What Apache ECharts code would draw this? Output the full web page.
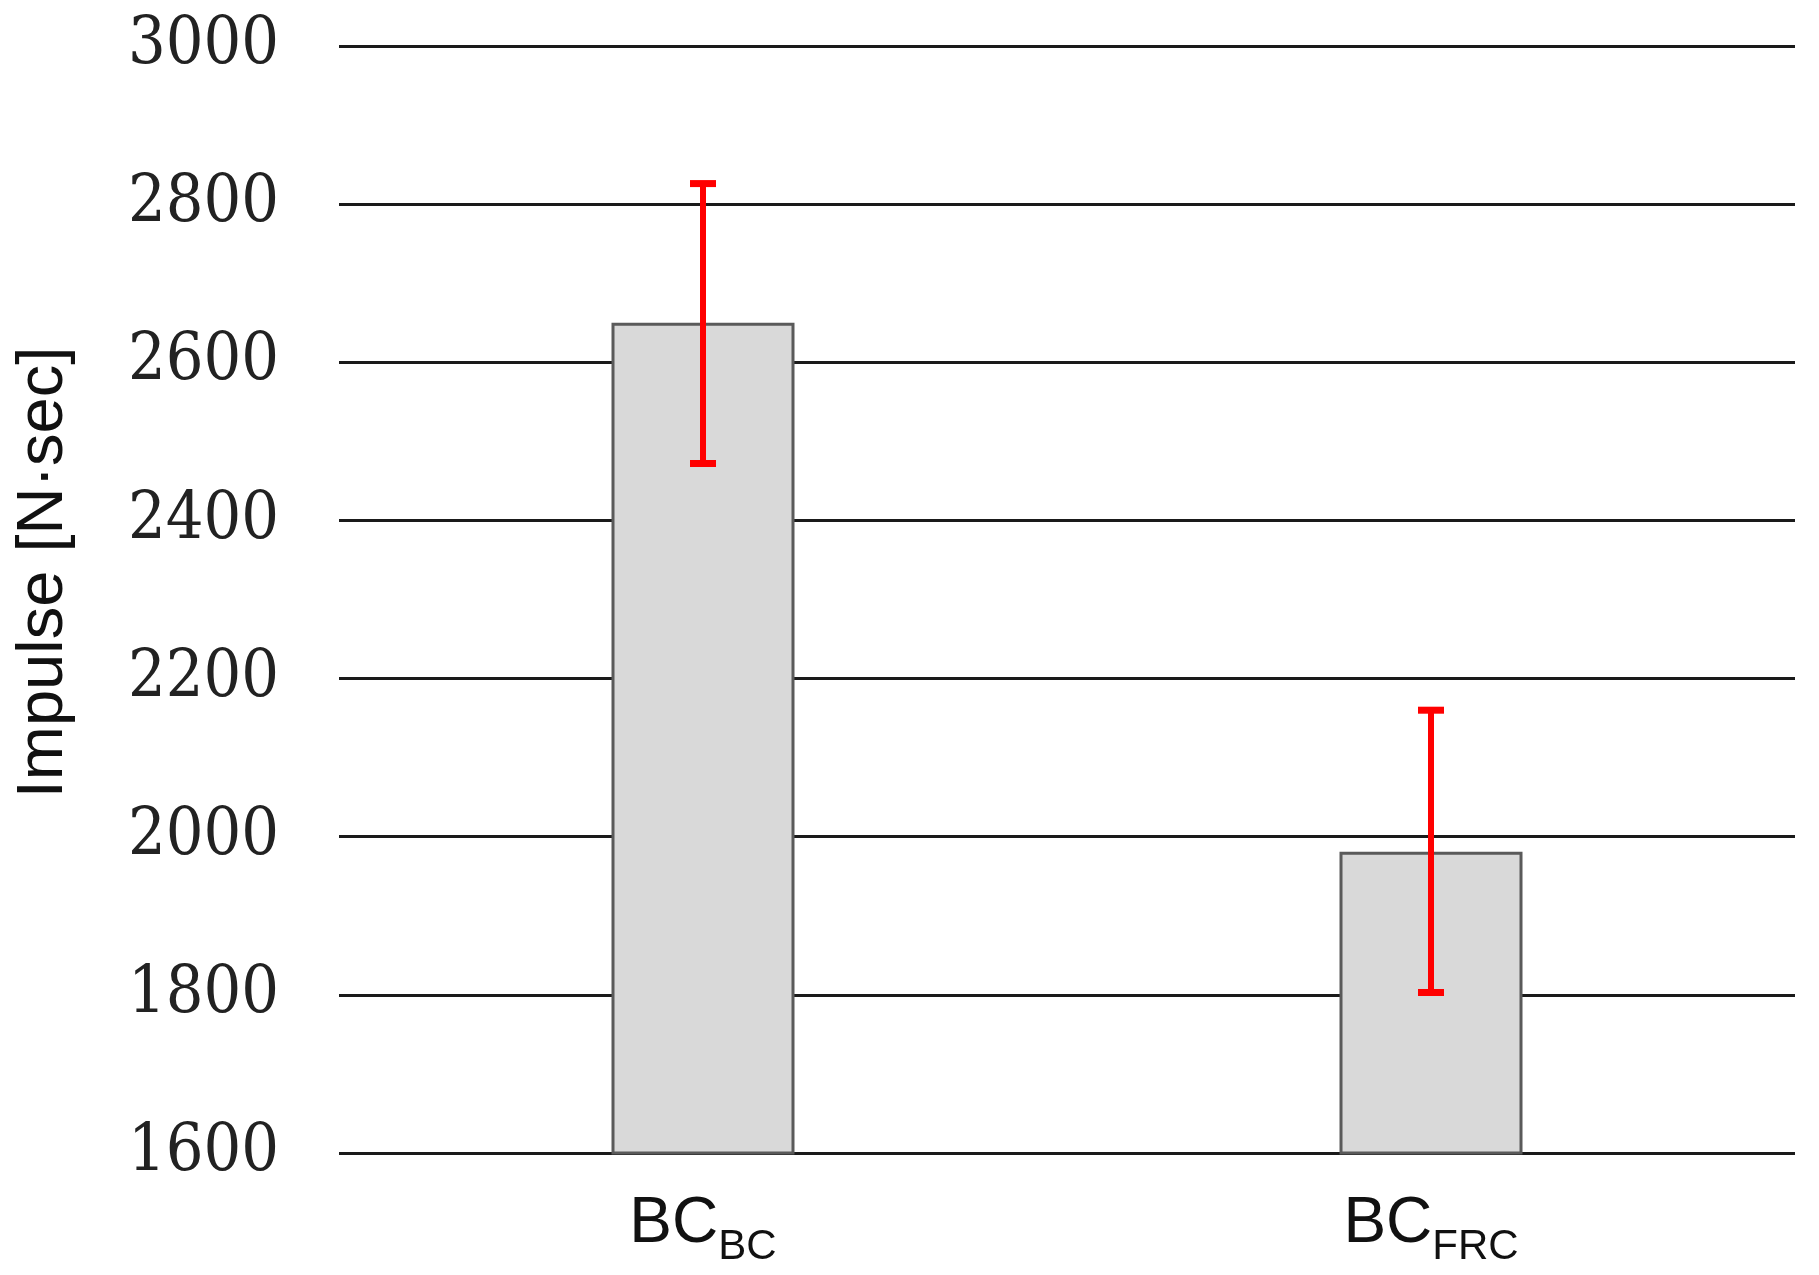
<!DOCTYPE html>
<html>
<head>
<meta charset="utf-8">
<script src="https://cdn.jsdelivr.net/npm/echarts@6/dist/echarts.min.js"></script>
<style>
html,body{margin:0;padding:0;background:#fff;}
#chart{width:1819px;height:1275px;}
</style>
</head>
<body>
<div id="chart"></div>
<script>
const categories = ['BCBC', 'BCFRC'];
const mainLabels = ['BC', 'BC'];
const subLabels = ['BC', 'FRC'];
const impulse = [2650, 1981];
const errLow = [2472, 1803];
const errHigh = [2826, 2160];
const yTicks = [1600, 1800, 2000, 2200, 2400, 2600, 2800, 3000];

const chart = echarts.init(document.getElementById('chart'));
chart.setOption({
  backgroundColor: '#ffffff',
  animation: false,
  grid: { left: 339, right: 24, top: 46, bottom: 122 },
  xAxis: {
    type: 'category',
    data: categories,
    axisLine: { show: false },
    axisTick: { show: false },
    axisLabel: {
      margin: 39,
      formatter: function (v, i) { return '{m|' + mainLabels[i] + '}{s|' + subLabels[i] + '}'; },
      rich: {
        m: { fontFamily: "'Liberation Sans', Arial, sans-serif", fontSize: 64, color: '#111', verticalAlign: 'bottom', padding: [0, 0, 12, 0] },
        s: { fontFamily: "'Liberation Sans', Arial, sans-serif", fontSize: 42, color: '#111', verticalAlign: 'bottom' }
      }
    }
  },
  yAxis: {
    type: 'value',
    min: yTicks[0],
    max: yTicks[yTicks.length - 1],
    interval: 200,
    name: 'Impulse [N\u00B7sec]',
    nameLocation: 'middle',
    nameRotate: 90,
    nameGap: 262,
    nameTextStyle: { fontFamily: "'Liberation Sans', Arial, sans-serif", fontSize: 65, color: '#111', padding: [0, 0, 0, 54] },
    axisLine: { show: false },
    axisTick: { show: false },
    splitLine: { show: true, lineStyle: { color: '#1a1a1a', width: 3 } },
    axisLabel: {
      margin: 60,
      formatter: function (v) { return String(v); },
      fontFamily: "'DejaVu Serif Condensed', 'Liberation Serif', serif",
      fontSize: 66,
      color: '#222'
    }
  },
  series: [
    {
      type: 'bar',
      data: impulse,
      barWidth: 183,
      itemStyle: { color: '#d9d9d9', borderColor: '#5a5a5a', borderWidth: 3 }
    },
    {
      type: 'custom',
      data: impulse.map((v, i) => [i, errLow[i], errHigh[i]]),
      z: 10,
      renderItem: function (params, api) {
        const x = api.value(0);
        const lo = api.coord([x, api.value(1)]);
        const hi = api.coord([x, api.value(2)]);
        const cap = 13;
        const st = { stroke: '#ff0000', lineWidth: 6 };
        return {
          type: 'group',
          children: [
            { type: 'line', shape: { x1: lo[0], y1: lo[1], x2: hi[0], y2: hi[1] }, style: st },
            { type: 'line', shape: { x1: hi[0] - cap, y1: hi[1], x2: hi[0] + cap, y2: hi[1] }, style: { stroke: '#ff0000', lineWidth: 7 } },
            { type: 'line', shape: { x1: lo[0] - cap, y1: lo[1], x2: lo[0] + cap, y2: lo[1] }, style: { stroke: '#ff0000', lineWidth: 7 } }
          ]
        };
      }
    }
  ]
});
</script>
</body>
</html>
